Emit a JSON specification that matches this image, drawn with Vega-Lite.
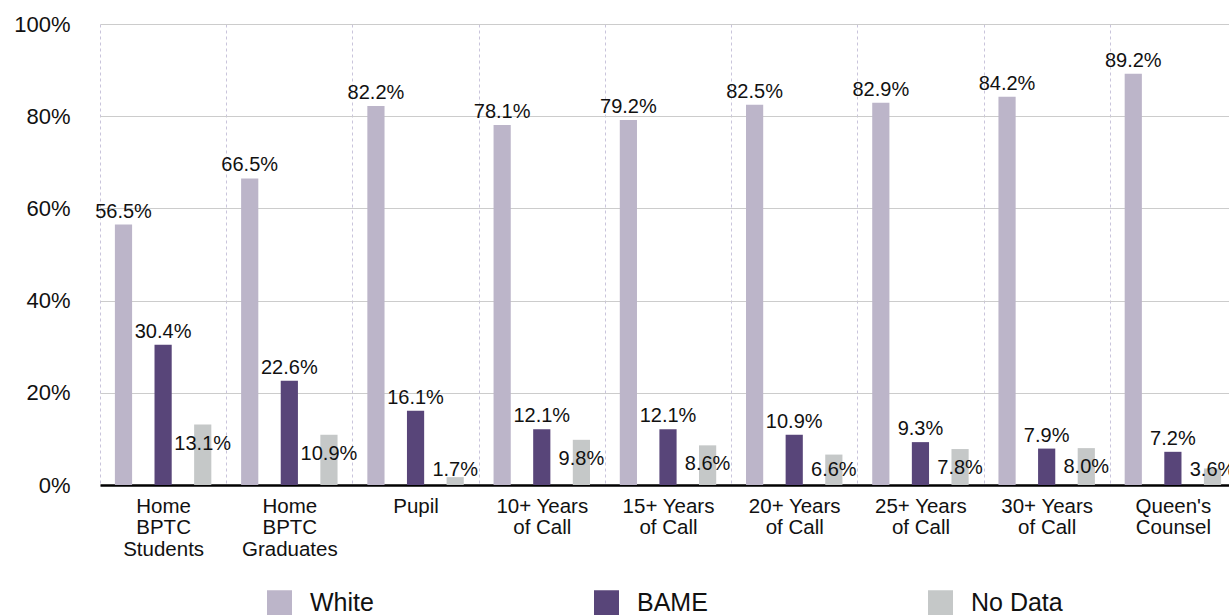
{
  "$schema": "https://vega.github.io/schema/vega-lite/v6.json",
  "width": 1136,
  "height": 461,
  "autosize": {"type": "none"},
  "padding": {"left": 100, "top": 24, "right": -7, "bottom": 130},
  "config": {
    "font": "Liberation Sans",
    "view": {"stroke": null},
    "axis": {"labelColor": "#111111", "labelFont": "Liberation Sans"},
    "legend": {"labelFont": "Liberation Sans"}
  },
  "data": {
    "values": [
      {"grade": "Home BPTC Students", "group": "White", "share": 0.565},
      {"grade": "Home BPTC Students", "group": "BAME", "share": 0.304},
      {"grade": "Home BPTC Students", "group": "No Data", "share": 0.131},
      {"grade": "Home BPTC Graduates", "group": "White", "share": 0.665},
      {"grade": "Home BPTC Graduates", "group": "BAME", "share": 0.226},
      {"grade": "Home BPTC Graduates", "group": "No Data", "share": 0.109},
      {"grade": "Pupil", "group": "White", "share": 0.822},
      {"grade": "Pupil", "group": "BAME", "share": 0.161},
      {"grade": "Pupil", "group": "No Data", "share": 0.017},
      {"grade": "10+ Years of Call", "group": "White", "share": 0.781},
      {"grade": "10+ Years of Call", "group": "BAME", "share": 0.121},
      {"grade": "10+ Years of Call", "group": "No Data", "share": 0.098},
      {"grade": "15+ Years of Call", "group": "White", "share": 0.792},
      {"grade": "15+ Years of Call", "group": "BAME", "share": 0.121},
      {"grade": "15+ Years of Call", "group": "No Data", "share": 0.086},
      {"grade": "20+ Years of Call", "group": "White", "share": 0.825},
      {"grade": "20+ Years of Call", "group": "BAME", "share": 0.109},
      {"grade": "20+ Years of Call", "group": "No Data", "share": 0.066},
      {"grade": "25+ Years of Call", "group": "White", "share": 0.829},
      {"grade": "25+ Years of Call", "group": "BAME", "share": 0.093},
      {"grade": "25+ Years of Call", "group": "No Data", "share": 0.078},
      {"grade": "30+ Years of Call", "group": "White", "share": 0.842},
      {"grade": "30+ Years of Call", "group": "BAME", "share": 0.079},
      {"grade": "30+ Years of Call", "group": "No Data", "share": 0.080},
      {"grade": "Queen's Counsel", "group": "White", "share": 0.892},
      {"grade": "Queen's Counsel", "group": "BAME", "share": 0.072},
      {"grade": "Queen's Counsel", "group": "No Data", "share": 0.036}
    ]
  },
  "encoding": {
    "x": {
      "field": "grade",
      "type": "nominal",
      "sort": null,
      "scale": {"paddingInner": 0, "paddingOuter": 0},
      "axis": {
        "title": null,
        "labelAngle": 0,
        "labelFontSize": 20.5,
        "labelLineHeight": 21.7,
        "labelPadding": 11,
        "labelLimit": 300,
        "labelExpr": "indexof(datum.label, ' of ') > 0 ? [slice(datum.label, 0, indexof(datum.label, ' of ')), slice(datum.label, indexof(datum.label, ' of ') + 1)] : split(datum.label, ' ')",
        "ticks": false,
        "domainColor": "#000000",
        "domainWidth": 2.5,
        "grid": true,
        "tickBand": "extent",
        "gridDash": [3, 3],
        "gridColor": "#C9C4DB",
        "gridWidth": 1
      }
    },
    "xOffset": {
      "field": "group",
      "type": "nominal",
      "sort": ["White", "BAME", "No Data"],
      "scale": {"paddingInner": 0.566, "paddingOuter": 0.376}
    },
    "y": {
      "field": "share",
      "type": "quantitative",
      "scale": {"domain": [0, 1], "nice": false},
      "axis": {
        "title": null,
        "values": [0, 0.2, 0.4, 0.6, 0.8, 1],
        "format": ".0%",
        "labelFontSize": 22,
        "labelPadding": 30,
        "ticks": false,
        "domain": false,
        "gridColor": "#CCCCCC",
        "gridWidth": 1.2
      }
    }
  },
  "layer": [
    {
      "mark": {"type": "bar"},
      "encoding": {
        "color": {
          "field": "group",
          "type": "nominal",
          "scale": {
            "domain": ["White", "BAME", "No Data"],
            "range": ["#BCB5C9", "#584579", "#C5C8C8"]
          },
          "legend": {
            "title": null,
            "orient": "none",
            "legendX": 167,
            "legendY": 566,
            "direction": "horizontal",
            "columns": 3,
            "columnPadding": 220,
            "padding": 0,
            "symbolType": "square",
            "symbolSize": 625,
            "symbolStrokeWidth": 0,
            "labelFontSize": 25,
            "labelOffset": 18,
            "labelLimit": 300,
            "labelColor": "#111111"
          }
        }
      }
    },
    {
      "mark": {
        "type": "text",
        "fontSize": 20,
        "align": "center",
        "baseline": "alphabetic",
        "color": "#111111",
        "dy": {"expr": "datum.group === 'No Data' ? min(25, datum.share * 461 - 9.5) : -7"}
      },
      "encoding": {
        "text": {"field": "share", "type": "quantitative", "format": ".1%"}
      }
    }
  ]
}
